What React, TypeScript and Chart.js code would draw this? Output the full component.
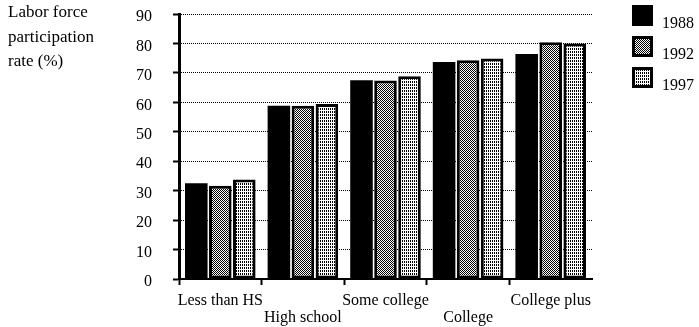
import React, { useEffect, useRef } from "react";
import { Chart, registerables } from "chart.js";

Chart.register(...registerables);

const categories = ["Less than HS", "High school", "Some college", "College", "College plus"];
const seriesNames = ["1988", "1992", "1997"];
const values1988 = [32.5, 58.8, 67.5, 73.7, 76.4];
const values1992 = [31.7, 58.8, 67.4, 74.3, 80.4];
const values1997 = [33.8, 59.4, 68.9, 74.9, 80.0];
const yMin = 0;
const yMax = 90;
const yStep = 10;
const titleLines = ["Labor force", "participation", "rate (%)"];

const FONT = "'Liberation Serif', 'Times New Roman', serif";

function makePattern(kind: "checker" | "dots"): CanvasPattern | string {
  const c = document.createElement("canvas");
  const w = 2;
  const h = kind === "checker" ? 2 : 3;
  c.width = w;
  c.height = h;
  const g = c.getContext("2d");
  if (!g) return "#888";
  g.fillStyle = "#fff";
  g.fillRect(0, 0, w, h);
  g.fillStyle = "#000";
  if (kind === "checker") {
    g.fillRect(0, 0, 1, 1);
    g.fillRect(1, 1, 1, 1);
  } else {
    g.fillRect(0, 0, 1, 2);
  }
  const p = g.createPattern(c, "repeat");
  return p || "#888";
}

export default function App() {
  const ref = useRef<HTMLCanvasElement | null>(null);

  useEffect(() => {
    const canvas = ref.current;
    if (!canvas) return;
    const pat1992 = makePattern("checker");
    const pat1997 = makePattern("dots");

    // staggered two-row category labels
    const labels = categories.map((c, i) => (i % 2 === 0 ? [c, ""] : ["", c]));

    const overlay = {
      id: "overlay",
      afterDraw(chart: any) {
        const ctx = chart.ctx;
        ctx.save();
        ctx.fillStyle = "#000";
        ctx.font = `17px ${FONT}`;
        ctx.textAlign = "left";
        ctx.textBaseline = "alphabetic";
        const baselines = [17, 42, 66];
        titleLines.forEach((t, i) => ctx.fillText(t, 8, baselines[i]));
        chart.data.datasets.forEach((ds: any, i: number) => {
          const x = 632;
          const y = 5 + 31 * i;
          const s = 21;
          ctx.fillStyle = "#000";
          ctx.fillRect(x, y, s, s);
          if (ds.borderWidth > 0) {
            ctx.fillStyle = ds.backgroundColor;
            ctx.fillRect(x + 3, y + 3, s - 6, s - 6);
          }
          ctx.fillStyle = "#000";
          ctx.font = `16px ${FONT}`;
          ctx.textBaseline = "middle";
          ctx.fillText(ds.label, 662, y + s / 2 + 8);
        });
        ctx.restore();
      },
    };

    const chart = new Chart(canvas, {
      type: "bar",
      data: {
        labels,
        datasets: [
          {
            label: seriesNames[0],
            data: values1988,
            backgroundColor: "#000",
            borderColor: "#000",
            borderWidth: 0,
            borderSkipped: false,
          },
          {
            label: seriesNames[1],
            data: values1992,
            backgroundColor: pat1992 as any,
            borderColor: "#000",
            borderWidth: 3,
            borderSkipped: false,
          },
          {
            label: seriesNames[2],
            data: values1997,
            backgroundColor: pat1997 as any,
            borderColor: "#000",
            borderWidth: 3,
            borderSkipped: false,
          },
        ],
      },
      options: {
        responsive: false,
        animation: false,
        devicePixelRatio: 1,
        layout: { padding: { left: 0, right: 107, top: 14, bottom: 0 } },
        datasets: {
          bar: { categoryPercentage: 0.872, barPercentage: 0.94 },
        },
        plugins: {
          legend: { display: false },
          tooltip: { enabled: false },
          title: { display: false },
        },
        scales: {
          x: {
            afterFit: (s: any) => {
              s.height = 48;
              s.paddingLeft = 0;
              s.paddingRight = 0;
            },
            grid: {
              display: true,
              offset: true,
              drawOnChartArea: false,
              drawTicks: true,
              tickLength: 6,
              tickWidth: 2,
              tickColor: (c: any) => (c.index === undefined ? "rgba(0,0,0,0)" : "#000"),
            },
            border: { display: true, color: "#000", width: 2 },
            ticks: {
              color: "#000",
              font: { family: FONT, size: 16, lineHeight: "17px" } as any,
              padding: 7,
              maxRotation: 0,
              autoSkip: false,
            },
          },
          y: {
            min: yMin,
            max: yMax,
            afterFit: (s: any) => {
              s.width = 179;
              s.paddingTop = 0;
              s.paddingBottom = 0;
            },
            grid: {
              display: true,
              color: "#000",
              lineWidth: 1,
              drawTicks: true,
              tickLength: 6,
              tickWidth: 2,
              tickColor: "#000",
              tickBorderDash: [],
            },
            border: { display: true, color: "#000", width: 3, dash: [1, 1] },
            ticks: {
              stepSize: yStep,
              color: "#000",
              font: { family: FONT, size: 16 },
              padding: 21,
              labelOffset: 3,
            },
          },
        },
      },
      plugins: [overlay],
    });

    return () => chart.destroy();
  }, []);

  return (
    <div style={{ position: "fixed", left: 0, top: 0, width: 699, height: 327, background: "#fff" }}>
      <canvas ref={ref} width={699} height={327} style={{ display: "block" }} />
    </div>
  );
}
